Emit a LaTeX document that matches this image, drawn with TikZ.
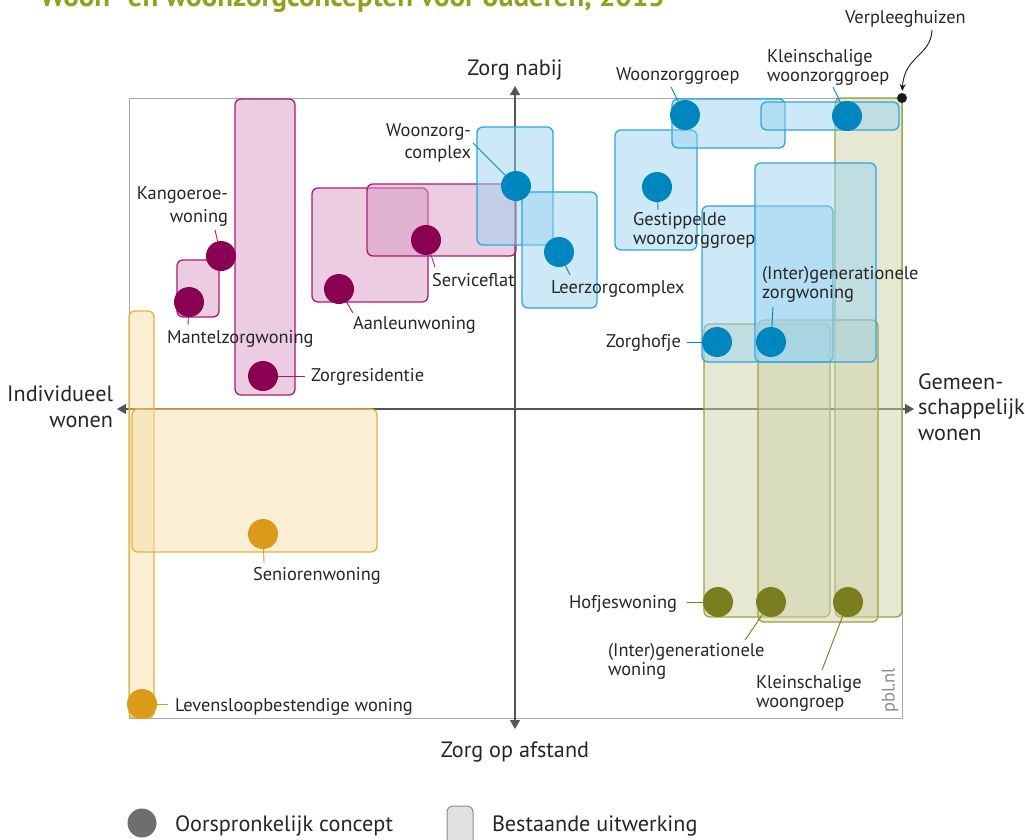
\documentclass[tikz,border=0pt]{standalone}
\usepackage{fontspec}
\setmainfont{PT Sans}
\usetikzlibrary{arrows.meta}
\definecolor{txt}{HTML}{262626}
\definecolor{axisc}{HTML}{555555}
\definecolor{framec}{HTML}{A8A8A8}
\definecolor{titlec}{HTML}{93A01E}
\definecolor{pfill}{HTML}{D799C1}
\definecolor{pline}{HTML}{A81C78}
\definecolor{pdotc}{HTML}{8A0052}
\definecolor{bfill}{HTML}{9BD3EF}
\definecolor{bline}{HTML}{2BA6E1}
\definecolor{bdotc}{HTML}{0086BF}
\definecolor{ofill}{HTML}{CDD1A7}
\definecolor{oline}{HTML}{9DA03A}
\definecolor{odotc}{HTML}{7A7E1F}
\definecolor{yfill}{HTML}{F5DFAB}
\definecolor{yline}{HTML}{E6B03C}
\definecolor{ydotc}{HTML}{DA9A1A}
\begin{document}
\begin{tikzpicture}[x=1pt,y=-1pt,
  every node/.style={inner sep=0pt,outer sep=0pt,text=txt},
  lbl/.style={font=\fontsize{18.4}{19}\selectfont},
  axlbl/.style={font=\fontsize{22.2}{25.5}\selectfont},
  boxbase/.style={line width=1.3pt,rounded corners=6pt,fill opacity=0.5,draw opacity=1},
  pbox/.style={boxbase,draw=pline,fill=pfill},
  bbox/.style={boxbase,draw=bline,fill=bfill},
  obox/.style={boxbase,draw=oline,fill=ofill},
  ybox/.style={boxbase,draw=yline,fill=yfill},
  dotbase/.style={circle,minimum size=30pt,inner sep=0pt},
  pdot/.style={dotbase,fill=pdotc},
  bdot/.style={dotbase,fill=bdotc},
  odot/.style={dotbase,fill=odotc},
  ydot/.style={dotbase,fill=ydotc},
  pleader/.style={draw=pline,line width=0.9pt},
  bleader/.style={draw=bdotc,line width=0.9pt},
  oleader/.style={draw=odotc,line width=0.9pt},
  yleader/.style={draw=ydotc,line width=0.9pt},
  axisline/.style={draw=axisc,line width=1.2pt,{Triangle[length=9pt,width=10pt]}-{Triangle[length=9pt,width=10pt]}}
]
\useasboundingbox (0,0) rectangle (1025,839);

% title (cut off at top)
\node[font=\bfseries\fontsize{28.9}{32}\selectfont,text=titlec,anchor=base west] (title) at (40,6) {Woon- en woonzorgconcepten voor ouderen, 2013};

% frame
\draw[framec,line width=1pt] (129,98) rectangle (902,718);

% axes
\coordinate (axT) at (515,86);
\coordinate (axB) at (515,729);
\coordinate (axL) at (117,409);
\coordinate (axR) at (914,409);
\draw[axisline] (axB) -- (axT);
\draw[axisline] (axL) -- (axR);

% yellow boxes
\draw[ybox] (129,311) rectangle (154,718);
\draw[ybox] (132,409) rectangle (377,552);

% pink boxes
\draw[pbox] (235,99) rectangle (295,395);
\draw[pbox] (177,260) rectangle (219,317);
\draw[pbox] (312,188) rectangle (428,302);
\draw[pbox] (367,184) rectangle (516,256);

% olive boxes
\draw[obox] (835,98) rectangle (902,617);
\draw[obox] (704,324) rectangle (830,617);
\draw[obox] (758,320) rectangle (878,622);

% blue boxes
\draw[bbox] (477,127) rectangle (553,245);
\draw[bbox] (522,192) rectangle (597,308);
\draw[bbox] (615,130) rectangle (697,250);
\draw[bbox] (672,99) rectangle (785,148);
\draw[bbox] (761,102) rectangle (899,130);
\draw[bbox] (702,206) rectangle (833,362);
\draw[bbox] (755,163) rectangle (876,362);

% axis labels
\node[axlbl,anchor=base] (zorgnabij) at (515,75) {Zorg nabij};
\node[axlbl,anchor=base] (zorgafstand) at (515,757) {Zorg op afstand};
\node[axlbl,anchor=base east,align=right] (indiv) at (113,427) {Individueel\\wonen};
\node[axlbl,anchor=base west,align=left] (gemeen) at (918,440) {Gemeen-\\schappelijk\\wonen};

% pink dots, labels, leaders
\node[pdot] (kdot) at (221,256) {};
\node[pdot] (mdot) at (189,302) {};
\node[pdot] (zrdot) at (263,376) {};
\node[pdot] (adot) at (339,289) {};
\node[pdot] (sdot) at (426,240) {};
\node[lbl,anchor=base east,align=right] (kangoeroe) at (228,222) {Kangoeroe-\\[4pt]woning};
\node[lbl,anchor=base west] (mantel) at (167,343) {Mantelzorgwoning};
\node[lbl,anchor=base west] (zorgres) at (311,381) {Zorgresidentie};
\node[lbl,anchor=base west] (aanleun) at (353,329) {Aanleunwoning};
\node[lbl,anchor=base west] (service) at (432,286) {Serviceflat};
\coordinate (kL) at (215,230);
\coordinate (mL) at (188,325);
\coordinate (zrL) at (305,376);
\coordinate (aL) at (353,313);
\coordinate (sL) at (435,267);
\draw[pleader] (kL) -- (kdot);
\draw[pleader] (mL) -- (mdot);
\draw[pleader] (zrL) -- (zrdot);
\draw[pleader] (aL) -- (adot);
\draw[pleader] (sL) -- (sdot);

% blue dots, labels, leaders
\node[bdot] (wcdot) at (516,186) {};
\node[bdot] (ldot) at (559,252) {};
\node[bdot] (gdot) at (657,187) {};
\node[bdot] (wgdot) at (685,115) {};
\node[bdot] (kwdot) at (847,116) {};
\node[bdot] (zhdot) at (717,342) {};
\node[bdot] (izdot) at (771,342) {};
\node[lbl,anchor=base east,align=right] (woonzorgc) at (471,158) {Woonzorg-\\[3pt]complex};
\node[lbl,anchor=base west] (leerzorg) at (551,293) {Leerzorgcomplex};
\node[lbl,anchor=base west,align=left] (gestip) at (633,244) {Gestippelde\\woonzorggroep};
\node[lbl,anchor=base west] (woonzorgg) at (616,80) {Woonzorggroep};
\node[lbl,anchor=base west,align=left] (kleinwzg) at (767,81) {Kleinschalige\\woonzorggroep};
\node[lbl,anchor=base west] (zorghofje) at (606,347) {Zorghofje};
\node[lbl,anchor=base west,align=left] (interzw) at (762,298) {(Inter)generationele\\zorgwoning};
\coordinate (wcL) at (473,143);
\coordinate (lL) at (570,275);
\coordinate (gL) at (658,210);
\coordinate (wgL) at (671,87);
\coordinate (kwL) at (833,87);
\coordinate (zhL) at (687,342);
\coordinate (izL) at (773,307);
\draw[bleader] (wcL) -- (wcdot);
\draw[bleader] (lL) -- (ldot);
\draw[bleader] (gL) -- (gdot);
\draw[bleader] (wgL) -- (wgdot);
\draw[bleader] (kwL) -- (kwdot);
\draw[bleader] (zhL) -- (zhdot);
\draw[bleader] (izL) -- (izdot);

% olive dots, labels, leaders
\node[odot] (hdot) at (718,602) {};
\node[odot] (iwdot) at (771,602) {};
\node[odot] (kgdot) at (848,602) {};
\node[lbl,anchor=base west] (hofjes) at (569,608) {Hofjeswoning};
\node[lbl,anchor=base west,align=left] (interw) at (608,675) {(Inter)generationele\\woning};
\node[lbl,anchor=base west,align=left] (kleinwg) at (756,707) {Kleinschalige\\woongroep};
\coordinate (hL) at (687,602);
\coordinate (iwL) at (745,640);
\coordinate (kgL) at (822,670);
\draw[oleader] (hL) -- (hdot);
\draw[oleader] (iwL) -- (iwdot);
\draw[oleader] (kgL) -- (kgdot);

% yellow dots, labels, leaders
\node[ydot] (sendot) at (263,534) {};
\node[ydot] (levdot) at (142,704) {};
\node[lbl,anchor=base west] (senior) at (253,580) {Seniorenwoning};
\node[lbl,anchor=base west] (levens) at (175,711) {Levensloopbestendige woning};
\coordinate (senL) at (264,563);
\coordinate (levL) at (168,704);
\draw[yleader] (senL) -- (sendot);
\draw[yleader] (levL) -- (levdot);

% Verpleeghuizen
\node[circle,fill=black!90,minimum size=10pt] (vdot) at (902,98) {};
\node[lbl,anchor=base west] (verpleeg) at (845,23) {Verpleeghuizen};
\coordinate (vS) at (932,30);
\draw[black!90,line width=0.9pt,-{Stealth[length=7pt,width=6pt]},shorten >=2pt] (vS) .. controls (931,56) and (904,56) .. (vdot);

% pbl.nl
\node[lbl,text=black!45,rotate=90] (pbl) at (890,690) {pbl.nl};

% legend
\node[circle,fill=black!57,minimum size=29pt] (legdot) at (142,823) {};
\node[axlbl,anchor=base west] (legtxt1) at (175,831) {Oorspronkelijk concept};
\draw[draw=black!45,fill=black!12,line width=1pt,rounded corners=6pt] (447,806) rectangle (473,852);
\node[axlbl,anchor=base west] (legtxt2) at (492,831) {Bestaande uitwerking};
\end{tikzpicture}
\end{document}
